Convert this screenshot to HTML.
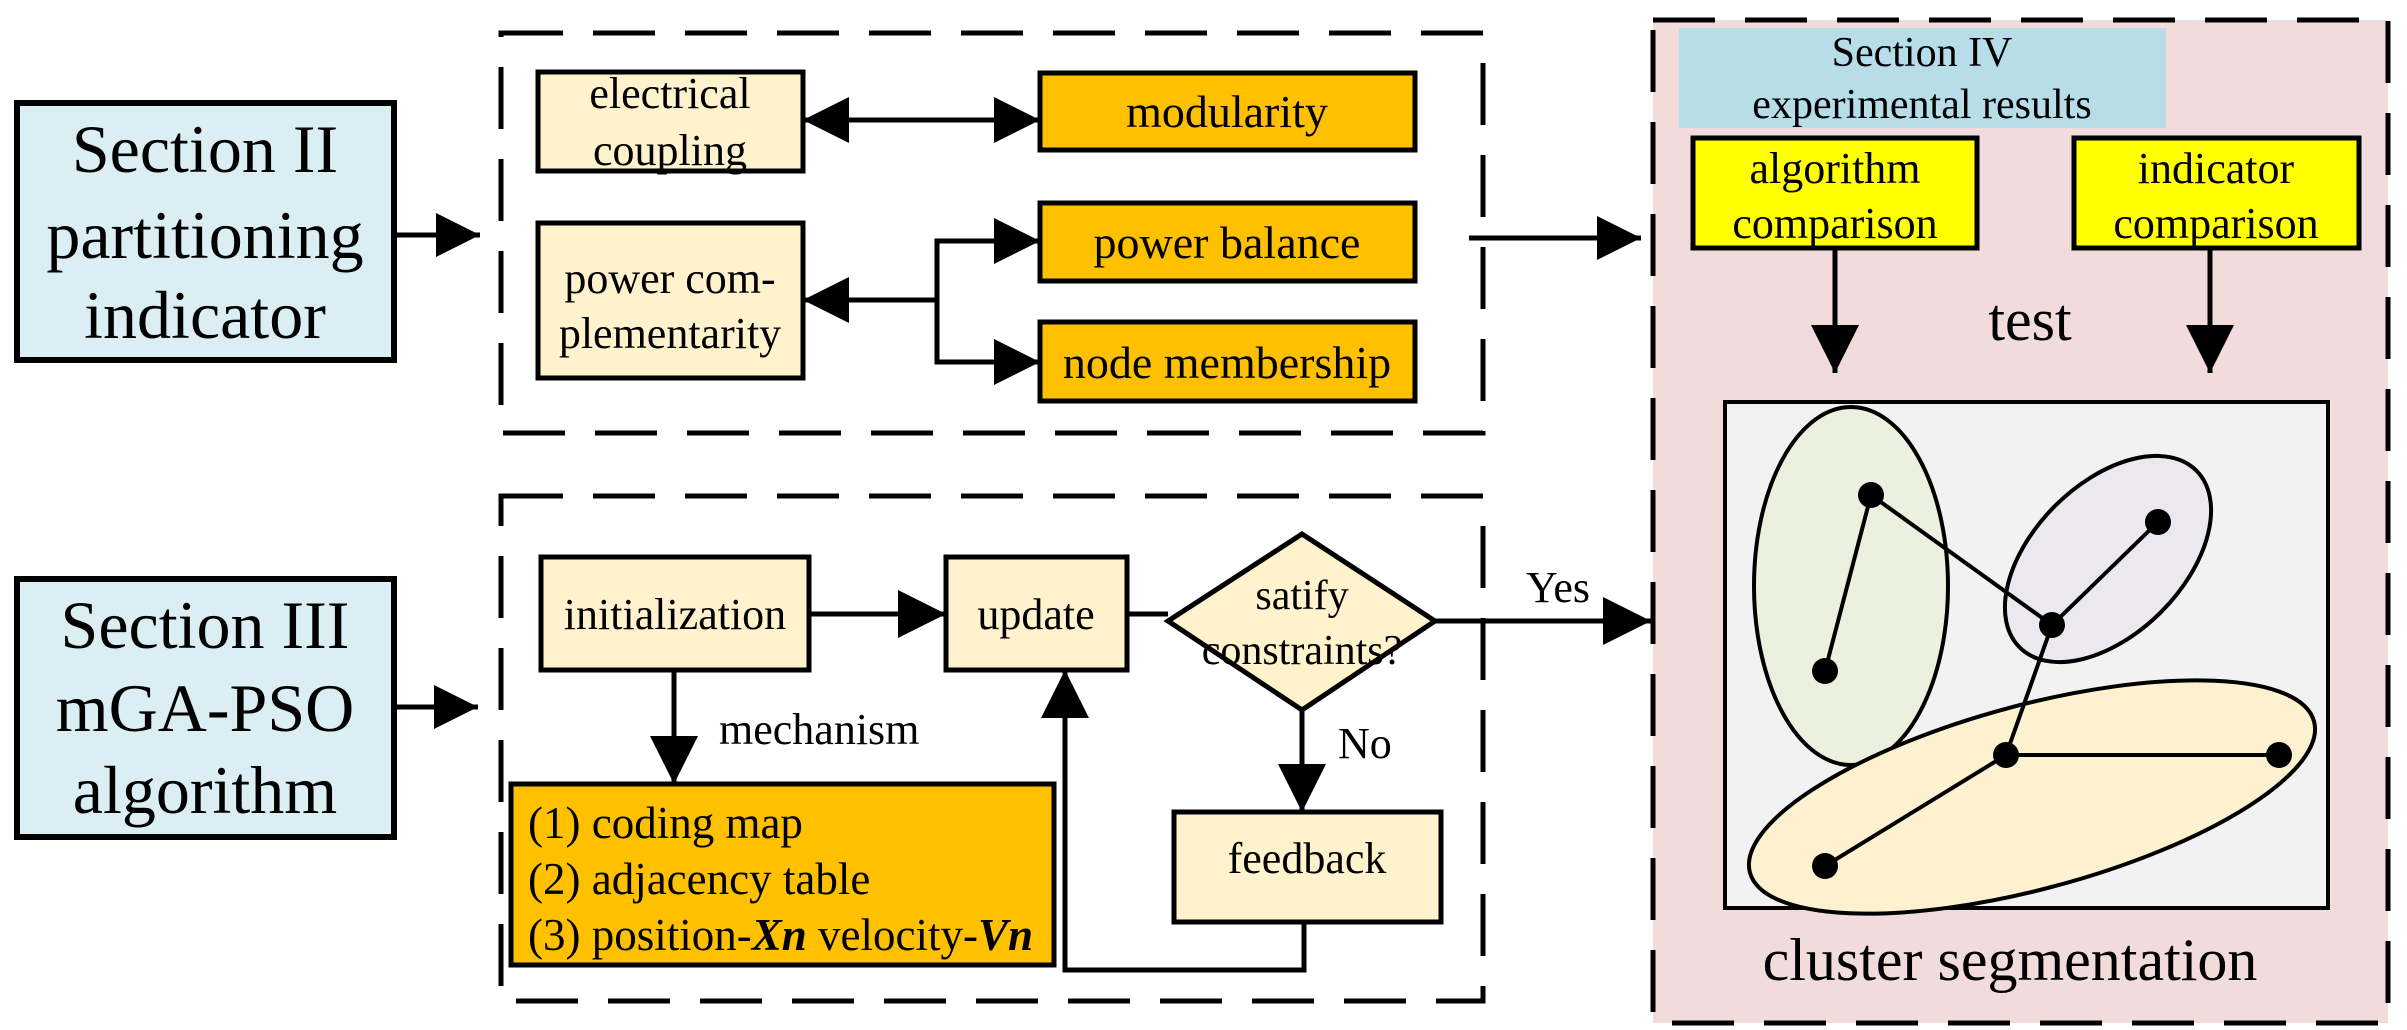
<!DOCTYPE html>
<html><head><meta charset="utf-8"><style>
html,body{margin:0;padding:0;background:#fff}
svg{display:block}
text{font-family:"Liberation Serif",serif;fill:#000}
</style></head><body>
<svg width="2407" height="1030" viewBox="0 0 2407 1030" xmlns="http://www.w3.org/2000/svg">
<defs>
<marker id="a" viewBox="0 0 10 10" refX="10" refY="5" markerUnits="userSpaceOnUse" markerWidth="70" markerHeight="48" orient="auto"><path d="M0,0L10,5L0,10z" fill="#000"/></marker>
<marker id="b" viewBox="0 0 10 10" refX="10" refY="5" markerUnits="userSpaceOnUse" markerWidth="70" markerHeight="46" orient="auto-start-reverse"><path d="M0,0L10,5L0,10z" fill="#000"/></marker>
<marker id="c" viewBox="0 0 10 10" refX="10" refY="5" markerUnits="userSpaceOnUse" markerWidth="69" markerHeight="44" orient="auto"><path d="M0,0L10,5L0,10z" fill="#000"/></marker>
</defs>
<g stroke="#000" stroke-width="5" fill="none">
<rect x="1653" y="20" width="735" height="1003" fill="#f2dcdb" stroke-dasharray="62 30"/>
<rect x="501" y="33" width="982" height="400" stroke-dasharray="62 30"/>
<rect x="501" y="496" width="982" height="505" stroke-dasharray="62 30"/>
</g>
<rect x="17" y="103" width="377" height="257" fill="#daeef3" stroke="#000" stroke-width="6"/>
<text font-size="68" text-anchor="middle" x="205" y="172">Section II</text>
<text font-size="68" text-anchor="middle" x="205" y="258">partitioning</text>
<text font-size="68" text-anchor="middle" x="205" y="338">indicator</text>
<rect x="17" y="579" width="377" height="258" fill="#daeef3" stroke="#000" stroke-width="6"/>
<text font-size="68" text-anchor="middle" x="205" y="648">Section III</text>
<text font-size="68" text-anchor="middle" x="205" y="731">mGA-PSO</text>
<text font-size="68" text-anchor="middle" x="205" y="813">algorithm</text>
<g stroke="#000" stroke-width="5" fill="none">
<line x1="394" y1="235" x2="480" y2="235" marker-end="url(#c)"/>
<line x1="394" y1="707" x2="478" y2="707" marker-end="url(#c)"/>
</g>
<g stroke="#000" stroke-width="5">
<rect x="538" y="72" width="265" height="99" fill="#fff2cc"/>
<rect x="1040" y="73" width="375" height="77" fill="#ffc000"/>
<rect x="538" y="223" width="265" height="155" fill="#fff2cc"/>
<rect x="1040" y="203" width="375" height="78" fill="#ffc000"/>
<rect x="1040" y="322" width="375" height="79" fill="#ffc000"/>
</g>
<text font-size="44" text-anchor="middle" x="670" y="108">electrical</text>
<text font-size="44" text-anchor="middle" x="670" y="165">coupling</text>
<text font-size="46" text-anchor="middle" x="1227" y="127">modularity</text>
<text font-size="44" text-anchor="middle" x="670" y="293">power com-</text>
<text font-size="44" text-anchor="middle" x="670" y="348">plementarity</text>
<text font-size="46" text-anchor="middle" x="1227" y="258">power balance</text>
<text font-size="46" text-anchor="middle" x="1227" y="378">node membership</text>
<g stroke="#000" stroke-width="5" fill="none">
<line x1="803" y1="120" x2="1040" y2="120" marker-start="url(#b)" marker-end="url(#b)"/>
<line x1="937" y1="300" x2="803" y2="300" marker-end="url(#b)"/>
<polyline points="1040,241 937,241 937,362 1040,362" marker-start="url(#b)" marker-end="url(#b)"/>
<line x1="1469" y1="238" x2="1641" y2="238" marker-end="url(#c)"/>
</g>
<g stroke="#000" stroke-width="5">
<rect x="541" y="557" width="268" height="113" fill="#fff2cc"/>
<rect x="946" y="557" width="181" height="113" fill="#fff2cc"/>
<polygon points="1168,621 1302,534 1435,621 1302,710" fill="#fff2cc"/>
<rect x="1174" y="812" width="267" height="110" fill="#fff2cc"/>
<rect x="511" y="784" width="543" height="181" fill="#ffc000"/>
</g>
<text font-size="44" text-anchor="middle" x="675" y="629">initialization</text>
<text font-size="44" text-anchor="middle" x="1036" y="629">update</text>
<text font-size="42" text-anchor="middle" x="1302" y="609">satify</text>
<text font-size="42" text-anchor="middle" x="1302" y="664">constraints?</text>
<text font-size="44" text-anchor="middle" x="1307" y="873">feedback</text>
<text font-size="44" x="719" y="744">mechanism</text>
<text font-size="44" x="1526" y="602">Yes</text>
<text font-size="44" x="1338" y="758">No</text>
<text font-size="45" x="528" y="838">(1) coding map</text>
<text font-size="45" x="528" y="894">(2) adjacency table</text>
<text font-size="45" x="528" y="950">(3) position-<tspan font-style="italic" font-weight="bold">Xn</tspan> velocity-<tspan font-style="italic" font-weight="bold">Vn</tspan></text>
<g stroke="#000" stroke-width="5" fill="none">
<line x1="809" y1="614" x2="946" y2="614" marker-end="url(#a)"/>
<line x1="1127" y1="614" x2="1168" y2="614"/>
<line x1="674" y1="670" x2="674" y2="784" marker-end="url(#a)"/>
<line x1="1302" y1="710" x2="1302" y2="812" marker-end="url(#a)"/>
<line x1="1435" y1="621" x2="1651" y2="621" marker-end="url(#a)"/>
<polyline points="1304,922 1304,970 1065,970 1065,670" marker-end="url(#a)"/>
</g>
<rect x="1679" y="28" width="487" height="100" fill="#b7dde8"/>
<text font-size="42" text-anchor="middle" x="1922" y="66">Section IV</text>
<text font-size="42" text-anchor="middle" x="1922" y="118">experimental results</text>
<g stroke="#000" stroke-width="5">
<rect x="1693" y="138" width="284" height="110" fill="#ffff00"/>
<rect x="2074" y="138" width="285" height="110" fill="#ffff00"/>
</g>
<text font-size="44" text-anchor="middle" x="1835" y="183">algorithm</text>
<text font-size="44" text-anchor="middle" x="1835" y="238">comparison</text>
<text font-size="44" text-anchor="middle" x="2216" y="183">indicator</text>
<text font-size="44" text-anchor="middle" x="2216" y="238">comparison</text>
<g stroke="#000" stroke-width="5" fill="none">
<line x1="1835" y1="248" x2="1835" y2="373" marker-end="url(#a)"/>
<line x1="2210" y1="248" x2="2210" y2="373" marker-end="url(#a)"/>
</g>
<text font-size="60" text-anchor="middle" x="2030" y="340">test</text>
<rect x="1725" y="402" width="603" height="506" fill="#f2f2f2" stroke="#000" stroke-width="4"/>
<g stroke="#000" stroke-width="4">
<ellipse cx="1851" cy="586" rx="97" ry="179" fill="#ebf1de"/>
<ellipse cx="0" cy="0" rx="125" ry="75" fill="#ece8f0" transform="translate(2108,559) rotate(-45)"/>
<ellipse cx="0" cy="0" rx="292" ry="92" fill="#fdf1d0" transform="translate(2032,797) rotate(-15)"/>
</g>
<g stroke="#000" stroke-width="4" fill="none">
<polyline points="1825,671 1871,495 2052,625 2158,522"/>
<polyline points="2052,625 2006,755 2279,755"/>
<line x1="2006" y1="755" x2="1825" y2="866"/>
</g>
<g fill="#000">
<circle cx="1871" cy="495" r="13"/><circle cx="1825" cy="671" r="13"/>
<circle cx="2158" cy="522" r="13"/><circle cx="2052" cy="625" r="13"/>
<circle cx="2006" cy="755" r="13"/><circle cx="2279" cy="755" r="13"/>
<circle cx="1825" cy="866" r="13"/>
</g>
<text font-size="60" text-anchor="middle" x="2010" y="980">cluster segmentation</text>
</svg>
</body></html>
